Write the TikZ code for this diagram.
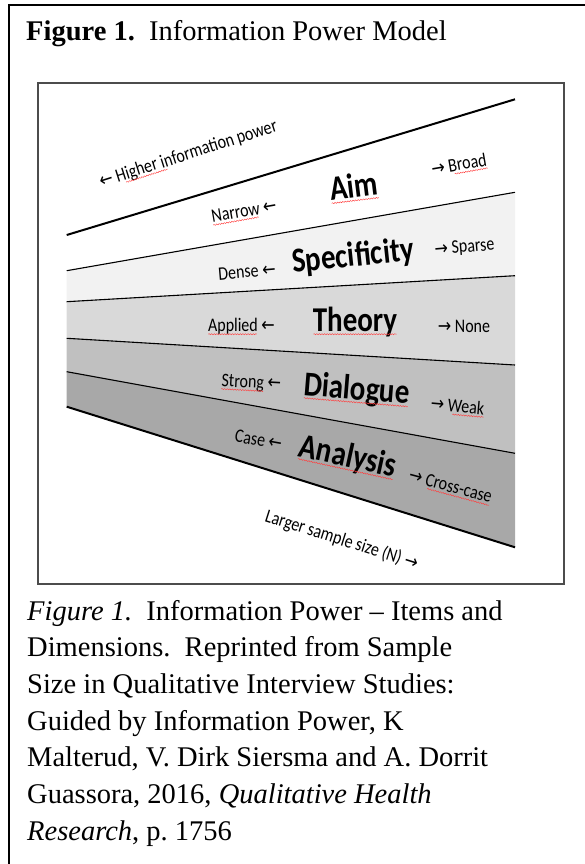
\documentclass[tikz,border=0pt]{standalone}
\usepackage{fontspec}
\setmainfont{Liberation Serif}
\newfontfamily\calfont{Carlito}
\newfontfamily\arrfont{DejaVu Sans}
\usetikzlibrary{calc,decorations.pathmorphing}
\newcommand{\la}{{\arrfont\fontsize{16}{17}\selectfont ←}}
\newcommand{\ra}{{\arrfont\fontsize{16}{17}\selectfont →}}
\newcommand{\St}[1]{\scalebox{1}[1.2]{#1}}
\newcommand{\squig}[3]{%
  \path ($(#1.base west)!#2!(#1.base east)$) coordinate (sqa)
        ($(#1.base west)!#3!(#1.base east)$) coordinate (sqb);
  \draw[squigline] ($(sqa)!2.5pt!-90:(sqb)$) -- ($(sqb)!2.5pt!90:(sqa)$);}
\definecolor{specfill}{HTML}{F2F2F2}
\definecolor{theofill}{HTML}{D9D9D9}
\definecolor{dialfill}{HTML}{C0C0C0}
\definecolor{analfill}{HTML}{A8A8A8}
\begin{document}
\frenchspacing
\begin{tikzpicture}[x=1pt,y=-1pt,
  small/.style={font=\calfont\fontsize{16}{18}\selectfont, inner sep=1pt, anchor=base},
  big/.style={font=\calfont\bfseries\fontsize{29}{32}\selectfont, inner sep=1pt, anchor=base},
  midline/.style={draw=black, line width=1.1pt},
  edgeline/.style={draw=black, line width=2pt},
  squigline/.style={draw=red!75, line width=0.45pt, decorate,
     decoration={snake, amplitude=0.55pt, segment length=2.6pt}},
  capline/.style={font=\fontsize{28.5}{34}\selectfont, anchor=base west, inner sep=0pt}]
\useasboundingbox (0,0) rectangle (585,864);
% outer cell frame
\draw[line width=2pt] (9,864) -- (9,5) -- (585,5);
% heading
\node[capline] (head) at (26,40.7) {\textbf{Figure 1.}\ \ Information Power Model};
% inner picture frame
\draw[line width=1.5pt, black!70] (38,83) rectangle (564,584);
% band lines
\coordinate (L1a) at (66.7,235);   \coordinate (L1b) at (515,99.3);
\coordinate (L2a) at (66.7,270.7); \coordinate (L2b) at (515,192.3);
\coordinate (L3a) at (66.7,301.7); \coordinate (L3b) at (515,275.7);
\coordinate (L4a) at (66.7,338.3); \coordinate (L4b) at (515,365);
\coordinate (L5a) at (66.7,371.7); \coordinate (L5b) at (515,453.3);
\coordinate (L6a) at (66.7,406.7); \coordinate (L6b) at (515,547.3);
\fill[specfill] (L2a) -- (L2b) -- (L3b) -- (L3a) -- cycle;
\fill[theofill] (L3a) -- (L3b) -- (L4b) -- (L4a) -- cycle;
\fill[dialfill] (L4a) -- (L4b) -- (L5b) -- (L5a) -- cycle;
\fill[analfill] (L5a) -- (L5b) -- (L6b) -- (L6a) -- cycle;
\draw[edgeline] (L1a) -- (L1b);
\draw[midline] (L2a) -- (L2b);
\draw[midline] (L3a) -- (L3b);
\draw[midline] (L4a) -- (L4b);
\draw[midline] (L5a) -- (L5b);
\draw[edgeline] (L6a) -- (L6b);
% labels
\node[small, rotate=17.7] (hip) at (190,159.3) {\St{\la\ Higher information power}};
\node[small, rotate=10] (narrow) at (245,217) {\St{Narrow \la}};
\node[big, rotate=7] (aim) at (355,198) {\St{Aim}};
\node[small, rotate=10] (broad) at (460,170.4) {\St{\ra\ Broad}};
\node[small, rotate=5] (dense) at (247.5,277.5) {\St{Dense \la}};
\node[big, rotate=6] (spec) at (354,266.3) {\St{Specificity}};
\node[small, rotate=5] (sparse) at (465,252.5) {\St{\ra\ Sparse}};
\node[small] (applied) at (241.5,331.7) {\St{Applied \la}};
\node[big] (theory) at (355,331.7) {\St{Theory}};
\node[small] (none) at (464,332.5) {\St{\ra\ None}};
\node[small, rotate=-3] (strong) at (251,388) {\St{Strong \la}};
\node[big, rotate=-4.7] (dial) at (356,399.8) {\St{Dialogue}};
\node[small, rotate=-5] (weak) at (457,412.3) {\St{\ra\ Weak}};
\node[small, rotate=-10] (case) at (257.5,446) {\St{Case \la}};
\node[big, rotate=-12.3] (anal) at (345.8,466.7) {\St{Analysis}};
\node[small, rotate=-15] (cross) at (449,492) {\St{\ra\ Cross-case}};
\node[small, rotate=-17.7] (larger) at (340,545.2) {\St{Larger sample size (N) \ra}};
% spell-check squiggles
\squig{hip}{0.14}{0.37}
\squig{narrow}{0.02}{0.7}
\squig{aim}{0.03}{0.97}
\squig{broad}{0.4}{0.98}
\squig{applied}{0.02}{0.72}
\squig{theory}{0.02}{0.98}
\squig{strong}{0.02}{0.7}
\squig{dial}{0.02}{0.98}
\squig{weak}{0.42}{0.98}
\squig{anal}{0.02}{0.98}
\squig{cross}{0.25}{0.98}
% caption
\node[capline] (c1) at (27,620)   {\textit{Figure 1.}\ \ Information Power – Items and};
\node[capline] (c2) at (27,656.7) {Dimensions.\ \ Reprinted from Sample};
\node[capline] (c3) at (27,693.4) {Size in Qualitative Interview Studies:};
\node[capline] (c4) at (27,730.1) {Guided by Information Power, K};
\node[capline] (c5) at (27,766.8) {Malterud, V. Dirk Siersma and A. Dorrit};
\node[capline] (c6) at (27,803.5) {Guassora, 2016, \textit{Qualitative Health}};
\node[capline] (c7) at (27,840.2) {\textit{Research}, p. 1756};
\end{tikzpicture}
\end{document}
